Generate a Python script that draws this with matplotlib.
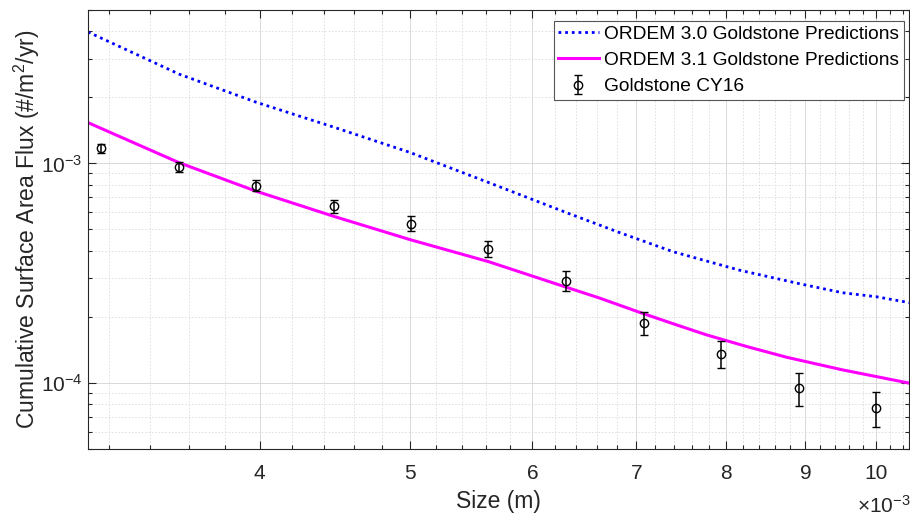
import numpy as np
import matplotlib
matplotlib.use('Agg')
import matplotlib.pyplot as plt
from matplotlib.ticker import FixedLocator, FixedFormatter, LogLocator, NullFormatter

plt.rcParams['font.family'] = ['Liberation Sans', 'DejaVu Sans']
plt.rcParams['mathtext.fontset'] = 'custom'
plt.rcParams['mathtext.rm'] = 'Liberation Sans'
plt.rcParams['mathtext.it'] = 'Liberation Sans:italic'
plt.rcParams['mathtext.bf'] = 'Liberation Sans:bold'

# Goldstone CY16 measurements (size in m, flux in #/m^2/yr)
size_obs = [3.16e-3, 3.55e-3, 3.98e-3, 4.47e-3, 5.01e-3, 5.62e-3,
            6.31e-3, 7.08e-3, 7.94e-3, 8.91e-3, 10.0e-3]
flux_obs = [1.17e-3, 0.96e-3, 0.793e-3, 0.637e-3, 0.532e-3, 0.409e-3,
            0.292e-3, 0.188e-3, 0.1355e-3, 0.0948e-3, 0.0769e-3]
flux_err = [0.06e-3, 0.05e-3, 0.045e-3, 0.044e-3, 0.042e-3, 0.035e-3,
            0.031e-3, 0.023e-3, 0.019e-3, 0.016e-3, 0.014e-3]

# ORDEM 3.0 prediction
size_30 = [3.1e-3, 3.55e-3, 3.98e-3, 4.47e-3, 5.0e-3, 5.62e-3, 6.31e-3, 6.83e-3,
           7.39e-3, 8.16e-3, 8.92e-3, 9.51e-3, 10.0e-3, 10.51e-3]
ordem30 = [3.97e-3, 2.55e-3, 1.90e-3, 1.46e-3, 1.123e-3, 0.819e-3, 0.597e-3, 0.484e-3,
           0.3965e-3, 0.3264e-3, 0.2832e-3, 0.2576e-3, 0.247e-3, 0.232e-3]

# ORDEM 3.1 prediction
size_31 = [3.1e-3, 3.55e-3, 3.98e-3, 4.47e-3, 5.0e-3, 5.62e-3, 6.24e-3,
           6.63e-3, 7.04e-3, 7.43e-3, 7.77e-3, 8.25e-3, 8.75e-3, 9.51e-3, 10.51e-3]
ordem31 = [1.534e-3, 1.007e-3, 0.747e-3, 0.573e-3, 0.450e-3, 0.357e-3, 0.280e-3,
           0.2435e-3, 0.2094e-3, 0.184e-3, 0.1656e-3, 0.1465e-3, 0.131e-3, 0.1147e-3, 0.0997e-3]

xticks_major = [4, 5, 6, 7, 8, 9, 10]

axc = '#262626'

fig = plt.figure(figsize=(9.1, 5.17), dpi=100)
ax = fig.add_axes([0.0967, 0.1315, 0.9023, 0.8492])

ax.plot(size_30, ordem30, color='blue', lw=2, linestyle=(0, (1, 1.4)),
        label='ORDEM 3.0 Goldstone Predictions')
ax.plot(size_31, ordem31, color='magenta', lw=2.2,
        label='ORDEM 3.1 Goldstone Predictions')
ax.errorbar(size_obs, flux_obs, yerr=flux_err, fmt='o', mfc='none', mec='black',
            ms=6, mew=1, ecolor='black', elinewidth=1.1, capsize=3.2, capthick=1.1,
            label='Goldstone CY16')

ax.set_xscale('log')
ax.set_yscale('log')
ax.set_xlim(3.1e-3, 10.5e-3)
ax.set_ylim(5e-5, 5e-3)

ax.xaxis.set_major_locator(FixedLocator([v * 1e-3 for v in xticks_major]))
ax.xaxis.set_major_formatter(FixedFormatter([str(v) for v in xticks_major]))
minors = [v * 1e-3 for v in np.arange(3.2, 10.45, 0.2) if abs(v - round(v)) > 1e-6]
ax.xaxis.set_minor_locator(FixedLocator(minors))
ax.xaxis.set_minor_formatter(NullFormatter())
ax.yaxis.set_minor_locator(LogLocator(base=10, subs=np.arange(2, 10)))
ax.yaxis.set_minor_formatter(NullFormatter())

ax.grid(True, which='major', color='#d9d9d9', lw=0.7)
ax.grid(True, which='minor', color='#dcdcdc', lw=0.6, linestyle=(0, (2, 2)))
ax.set_axisbelow(True)

ax.tick_params(which='both', direction='in', top=True, right=True, colors=axc,
               width=0.8, labelsize=15)
ax.tick_params(which='major', length=5.8)
ax.tick_params(which='minor', length=2.9)
ax.tick_params(axis='x', which='major', pad=11)
ax.tick_params(axis='y', which='major', pad=4)
for s in ax.spines.values():
    s.set_color(axc)
    s.set_linewidth(0.8)

ax.set_xlabel('Size (m)', fontsize=16.5, color=axc, labelpad=5)
ax.set_ylabel('Cumulative Surface Area Flux (#/m$^2$/yr)', fontsize=16.5, color=axc)
ax.yaxis.set_label_coords(-0.056, 0.5)
ax.text(1.002, -0.13, r'$\times$10$^{-3}$', transform=ax.transAxes, ha='right', va='center',
        fontsize=15, color=axc)

leg = ax.legend(loc='upper right', bbox_to_anchor=(0.994, 0.975), fontsize=13.8,
                fancybox=False, framealpha=1, edgecolor='#555555',
                handlelength=2.1, handletextpad=0.3, borderpad=0.25, labelspacing=0.45,
                borderaxespad=0)
leg.get_frame().set_linewidth(0.8)

fig.savefig('out.png', dpi=100)
